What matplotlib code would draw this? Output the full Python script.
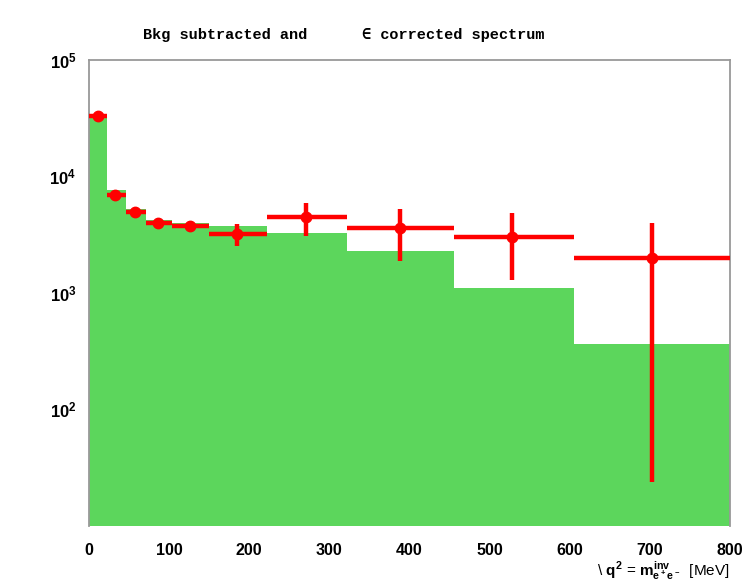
import numpy as np
import matplotlib
matplotlib.use("Agg")
from matplotlib import pyplot as plt
from matplotlib.ticker import FixedLocator, FixedFormatter

# bin edges of the q^2 spectrum [MeV]
edges = [0, 23, 46, 71, 103, 150, 222, 322, 456, 605, 800]
# green histogram (bkg subtracted, efficiency corrected)
hist_counts = [31500, 7600, 5300, 4250, 3950, 3750, 3250, 2300, 1100, 365]
# red data points
pt_x = [11, 33, 57, 86, 126, 185, 271, 388, 528, 703]
pt_y = [32800, 6900, 5000, 4020, 3760, 3240, 4520, 3590, 3030, 1980]
pt_lo = [31500, 6600, 4800, 3850, 3600, 2540, 3090, 1870, 1290, 24]
pt_hi = [34200, 7200, 5200, 4200, 3950, 3890, 5960, 5300, 4830, 4020]

plt.rcParams['mathtext.fontset'] = 'custom'
plt.rcParams['mathtext.rm'] = 'Liberation Sans:bold'
plt.rcParams['mathtext.bf'] = 'Liberation Sans:bold'
plt.rcParams['mathtext.it'] = 'Liberation Sans:bold'

fig = plt.figure(figsize=(7.42, 5.88), dpi=100)
ax = fig.add_axes([89 / 742, 1 - 526 / 588, 641 / 742, 466 / 588])

ax.stairs(hist_counts, edges, baseline=1, fill=True, color="#5cd65c", lw=0)

xl = np.array(pt_x) - np.array(edges[:-1])
xr = np.array(edges[1:]) - np.array(pt_x)
yl = np.array(pt_y) - np.array(pt_lo)
yh = np.array(pt_hi) - np.array(pt_y)
ax.errorbar(pt_x, pt_y, xerr=[xl, xr], yerr=[yl, yh], fmt="o", color="red",
            ms=7.5, elinewidth=3.2, capsize=0, zorder=3)

ax.set_yscale("log")
ax.set_xlim(0, 800)
ax.set_ylim(10, 1e5)
ax.yaxis.set_major_locator(FixedLocator([1e2, 1e3, 1e4, 1e5]))
ax.yaxis.set_major_formatter(FixedFormatter([r"$10^{2}$", r"$10^{3}$", r"$10^{4}$", r"$10^{5}$"]))
ax.yaxis.set_minor_locator(FixedLocator([]))
ax.set_xticks([0, 100, 200, 300, 400, 500, 600, 700, 800])
ax.tick_params(axis="x", length=0, pad=12)
ax.tick_params(axis="y", length=0, pad=9)
for lab in ax.get_xticklabels():
    lab.set_fontfamily("Liberation Sans")
    lab.set_fontweight("bold")
    lab.set_fontsize(11.5)
for lab in ax.get_yticklabels():
    lab.set_fontsize(12)

for side in ["left", "top", "right"]:
    ax.spines[side].set_color("#999999")
    ax.spines[side].set_linewidth(1.3)
ax.spines["bottom"].set_visible(False)

ax.set_xlabel(r"\ $q^2$ = $m^{inv}_{e^+e^-}$  [MeV]", loc="right", labelpad=1,
              fontfamily="Liberation Sans", fontsize=11)

fig.text(344 / 742, 1 - 35 / 588, "Bkg subtracted and      \u2208 corrected spectrum",
         ha="center", va="center", fontsize=11, fontweight="bold",
         family=["Liberation Mono", "DejaVu Sans Mono"])

plt.savefig("out.png")
plt.close()
